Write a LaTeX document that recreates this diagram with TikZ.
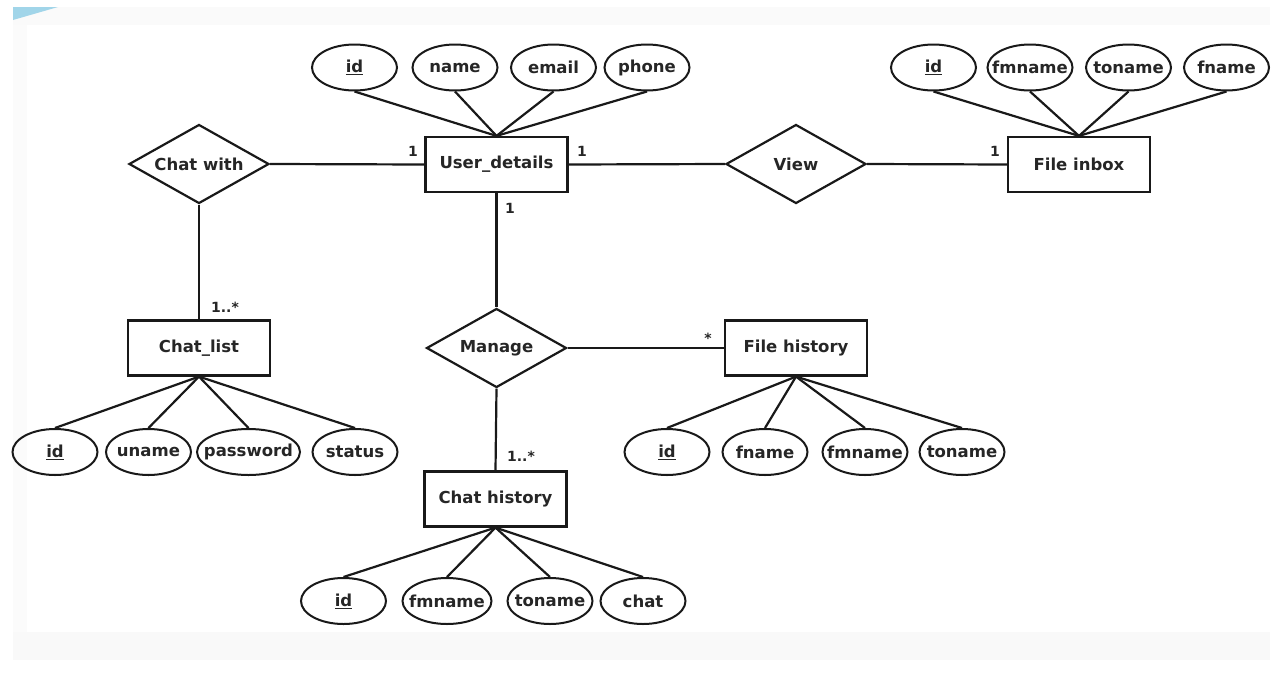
\documentclass[tikz,border=0pt]{standalone}
\usepackage{fontspec}
\setmainfont{DejaVu Sans}
\usetikzlibrary{shapes.geometric}
\begin{document}
\begin{tikzpicture}[x=1pt,y=-1pt,
  every node/.style={font=\bfseries\fontsize{16.5}{19}\selectfont, text=black!85},
  entity/.style={draw=black!90, line width=2.2pt, rectangle, minimum width=142pt, minimum height=55pt, inner sep=0pt},
  rel/.style={draw=black!90, line width=2.2pt, diamond, shape aspect=1.77, minimum width=140pt, minimum height=79pt, inner sep=0pt},
  attr/.style={draw=black!90, line width=2pt, ellipse, minimum width=85pt, minimum height=46pt, inner sep=0pt},
  conn/.style={line width=2.2pt, draw=black!90},
  card/.style={font=\bfseries\fontsize{14}{16}\selectfont, inner sep=0pt}
]
\useasboundingbox (0,0) rectangle (1275,675);
\fill[white] (0,0) rectangle (1275,675);
% faint page decorations
\fill[black!2] (13,7) rectangle (1270,25);
\fill[black!1.5] (13,25) rectangle (27,632);
\fill[black!2.5] (13,632) rectangle (1270,660);
\fill[cyan!60!teal!40!white] (13,7) -- (58,7) -- (13,20) -- cycle;

% entities
\node[entity] (ud) at (496.5,164.5) {User\_details};
\node[entity] (fi) at (1079,164.5) {File inbox};
\node[entity] (cl) at (199,348) {Chat\_list};
\node[entity] (fh) at (796,348) {File history};
\node[entity] (ch) at (495.5,499) {Chat history};

% relationships
\node[rel] (cw) at (199,164) {Chat with};
\node[rel] (vw) at (796,164) {View};
\node[rel] (mg) at (496.5,348) {Manage};

% attributes of User_details
\node[attr] (u1) at (354.5,67.5) {\makebox[0pt]{\underline{id}}};
\node[attr] (u2) at (455,67.5) {\makebox[0pt]{name}};
\node[attr] (u3) at (553.5,67.5) {\makebox[0pt]{email}};
\node[attr] (u4) at (647,67.5) {\makebox[0pt]{phone}};
% attributes of File inbox
\node[attr] (f1) at (933.5,67.5) {\makebox[0pt]{\underline{id}}};
\node[attr] (f2) at (1030,67.5) {\makebox[0pt]{fmname}};
\node[attr] (f3) at (1128.5,67.5) {\makebox[0pt]{toname}};
\node[attr] (f4) at (1226.5,67.5) {\makebox[0pt]{fname}};
% attributes of Chat_list
\node[attr] (c1) at (55,452) {\makebox[0pt]{\underline{id}}};
\node[attr] (c2) at (148.5,452) {\makebox[0pt]{uname}};
\node[attr, minimum width=103pt] (c3) at (248.5,452) {\makebox[0pt]{password}};
\node[attr] (c4) at (355,452) {\makebox[0pt]{status}};
% attributes of File history
\node[attr] (h1) at (667,452) {\makebox[0pt]{\underline{id}}};
\node[attr] (h2) at (765,452) {\makebox[0pt]{fname}};
\node[attr] (h3) at (865,452) {\makebox[0pt]{fmname}};
\node[attr] (h4) at (962,452) {\makebox[0pt]{toname}};
% attributes of Chat history
\node[attr] (k1) at (343.5,601) {\makebox[0pt]{\underline{id}}};
\node[attr, minimum width=89pt] (k2) at (447,601) {\makebox[0pt]{fmname}};
\node[attr] (k3) at (550,601) {\makebox[0pt]{toname}};
\node[attr] (k4) at (643,601) {\makebox[0pt]{chat}};

% attribute connectors
\foreach \a in {u1,u2,u3,u4} \draw[conn] (\a.south) -- (ud.north);
\foreach \a in {f1,f2,f3,f4} \draw[conn] (\a.south) -- (fi.north);
\foreach \a in {c1,c2,c3,c4} \draw[conn] (cl.south) -- (\a.north);
\foreach \a in {h1,h2,h3,h4} \draw[conn] (fh.south) -- (\a.north);
\foreach \a in {k1,k2,k3,k4} \draw[conn] (ch.south) -- (\a.north);

% relationship connectors
\draw[conn] (cw.east) -- (ud.west);
\draw[conn] (ud.east) -- (vw.west);
\draw[conn] (vw.east) -- (fi.west);
\draw[conn] (cw.south) -- (cl.north);
\draw[conn] (ud.south) -- (mg.north);
\draw[conn] (mg.east) -- (fh.west);
\draw[conn] (mg.south) -- (ch.north);

% cardinalities
\node[card] (l1) at (413,151) {1};
\node[card] (l2) at (582,151) {1};
\node[card] (l3) at (510,208) {1};
\node[card] (l4) at (995,151) {1};
\node[card] (l5) at (225,307) {1..*};
\node[card] (l6) at (708,338) {*};
\node[card] (l7) at (521,456) {1..*};
\end{tikzpicture}
\end{document}
